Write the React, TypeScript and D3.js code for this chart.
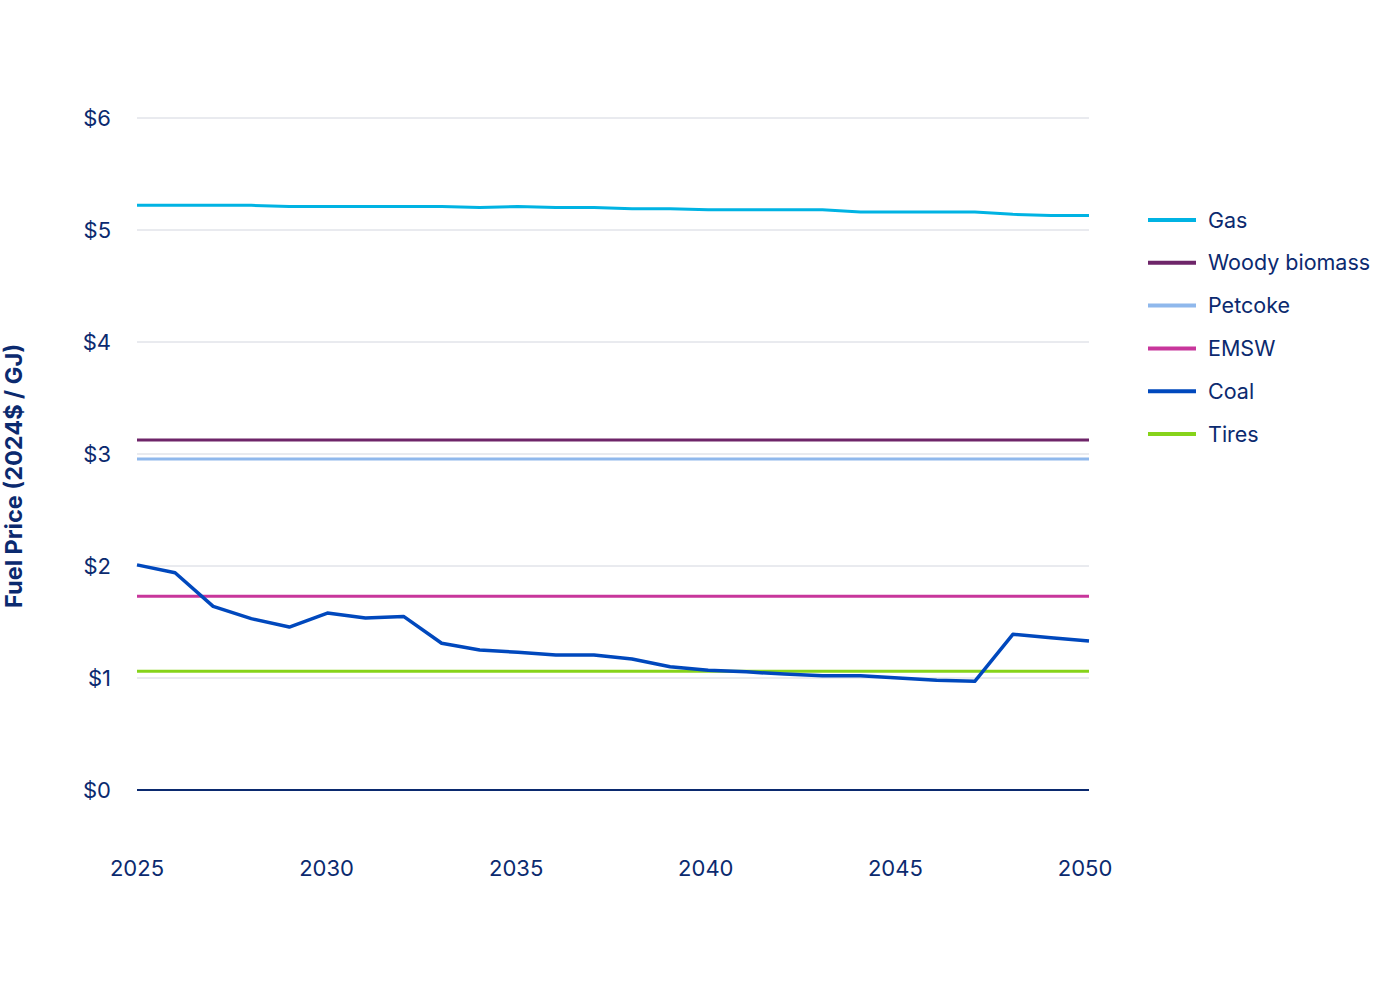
import * as React from "react";
import * as d3 from "d3";

const years: number[] = d3.range(2025, 2051);
const gas: number[] = [5.22, 5.22, 5.22, 5.22, 5.21, 5.21, 5.21, 5.21, 5.21, 5.2, 5.21, 5.2, 5.2, 5.19, 5.19, 5.18, 5.18, 5.18, 5.18, 5.16, 5.16, 5.16, 5.16, 5.14, 5.13, 5.13];
const coal: number[] = [2.01, 1.94, 1.64, 1.53, 1.455, 1.58, 1.535, 1.55, 1.31, 1.25, 1.23, 1.205, 1.205, 1.17, 1.1, 1.07, 1.055, 1.035, 1.02, 1.02, 1.0, 0.98, 0.97, 1.39, 1.36, 1.33];
const woody: number[] = years.map(() => 3.125);
const petcoke: number[] = years.map(() => 2.955);
const emsw: number[] = years.map(() => 1.73);
const tires: number[] = years.map(() => 1.06);
const yTicks: number[] = [0, 1, 2, 3, 4, 5, 6];
const xTicks: number[] = [2025, 2030, 2035, 2040, 2045, 2050];

const navy = "#0b2a6f";
const font = "Inter, 'Noto Sans', sans-serif";

interface Series { name: string; color: string; values: number[]; width: number; }
const series: Series[] = [
    { name: "Gas", color: "#00b3e3", values: gas, width: 3 },
    { name: "Woody biomass", color: "#6e2569", values: woody, width: 3 },
    { name: "Petcoke", color: "#8fb8ec", values: petcoke, width: 3 },
    { name: "EMSW", color: "#c8369b", values: emsw, width: 3 },
    { name: "Coal", color: "#0048bd", values: coal, width: 3.5 },
    { name: "Tires", color: "#86d31a", values: tires, width: 3 },
];
// draw order: flat lines first, coal above tires
const drawOrder: string[] = ["Gas", "Woody biomass", "Petcoke", "EMSW", "Tires", "Coal"];

export default function App(): JSX.Element {
    const x = d3.scaleLinear().domain([2025, 2050]).range([137, 1089]);
    const y = d3.scaleLinear().domain([0, 6]).range([790, 118]);
    const line = (vals: number[]) =>
        d3.line<number>().x((_, i) => x(years[i])).y((v) => y(v))(vals) || "";

    return (
        <svg width={1400} height={988} style={{ position: "absolute", left: 0, top: 0 }} fontFamily={font}>
            <rect width={1400} height={988} fill="#fff" />
            {yTicks.map((t) => (
                <g key={t}>
                    <line x1={137} x2={1089} y1={y(t)} y2={y(t)} stroke={t === 0 ? navy : "#d3d6df"} strokeWidth={t === 0 ? 2 : 1} />
                    <text x={111} y={y(t)} dy="0.35em" textAnchor="end" fill={navy} fontSize={22}>${t}</text>
                </g>
            ))}
            {xTicks.map((t) => (
                <text key={t} x={x(t) - (t - 2025) * 0.16} y={876} textAnchor="middle" fill={navy} fontSize={22}>{t}</text>
            ))}
            <text transform="translate(22,476) rotate(-90)" textAnchor="middle" fill={navy} fontSize={23.5} fontWeight={700}>
                Fuel Price (2024$ / GJ)
            </text>
            {drawOrder.map((n) => {
                const s = series.find((d) => d.name === n)!;
                return <path key={n} d={line(s.values)} fill="none" stroke={s.color} strokeWidth={s.width} strokeLinejoin="round" />;
            })}
            {series.map((s, i) => (
                <g key={s.name} transform={`translate(1148,${220 + i * 42.8})`}>
                    <line x1={0} x2={48} stroke={s.color} strokeWidth={4} />
                    <text x={60} dy="0.35em" fill={navy} fontSize={21.5}>{s.name}</text>
                </g>
            ))}
        </svg>
    );
}
